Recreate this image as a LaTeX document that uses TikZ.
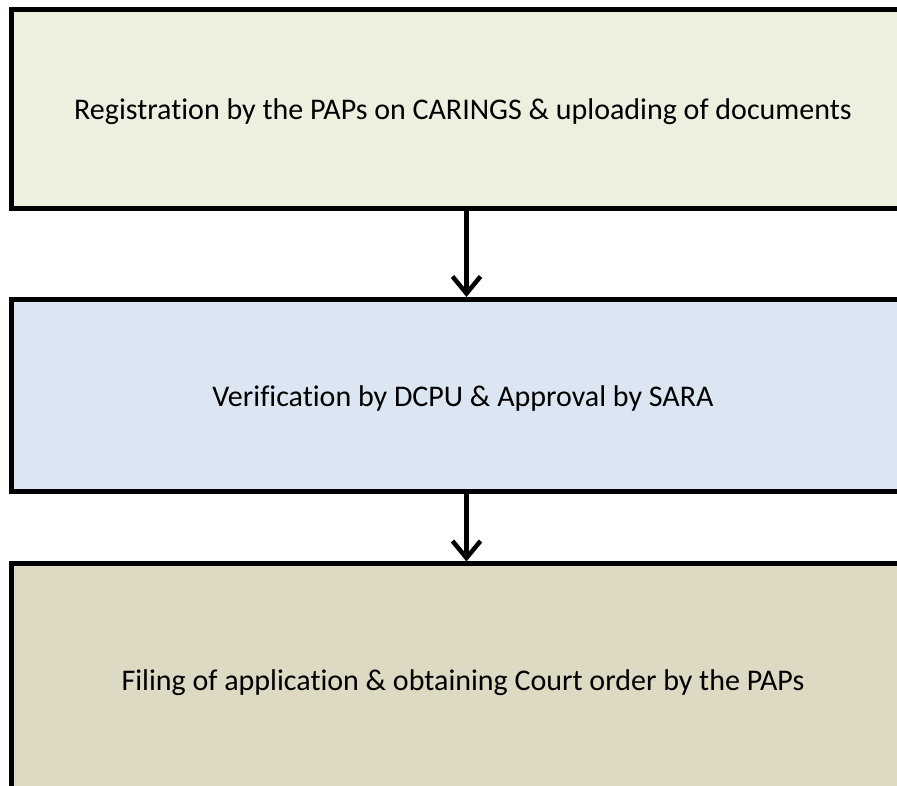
\documentclass[tikz,border=0pt]{standalone}
\usepackage{fontspec}
\setmainfont[Ligatures=NoCommon]{Carlito}
\usetikzlibrary{arrows.meta}
\definecolor{boxA}{HTML}{EBF1DE}
\definecolor{boxB}{HTML}{DCE6F2}
\definecolor{boxC}{HTML}{DDD9C3}
\begin{document}
\begin{tikzpicture}[x=1pt,y=-1pt,
  flowbox/.style={draw=black,line width=5pt},
  flowtext/.style={font=\fontsize{30}{36}\selectfont,inner sep=0pt,anchor=center},
  flowarrow/.style={line width=4.5pt,-{Straight Barb[length=17pt,width=28pt,line width=4.5pt]}}]
\useasboundingbox (0,0) rectangle (897,785);
\clip (0,0) rectangle (897,785);
\fill[white] (0,0) rectangle (897,785);
\draw[flowbox,fill=boxA] (11.5,9.5) rectangle (914.5,208.7);
\draw[flowbox,fill=boxB] (11.5,299) rectangle (914.5,491.5);
\draw[flowbox,fill=boxC] (11.5,563.5) rectangle (914.5,797);
\node[flowtext] (t1) at (463,112) {Registration by the PAPs on CARINGS \& uploading of documents};
\node[flowtext] (t2) at (463,398) {Verification by DCPU \& Approval by SARA};
\node[flowtext] (t3) at (463,683) {Filing of application \& obtaining Court order by the PAPs};
\coordinate (a1s) at (466.5,211);
\coordinate (a1e) at (466.5,297);
\coordinate (a2s) at (466.5,494);
\coordinate (a2e) at (466.5,561.5);
\draw[flowarrow] (a1s) -- (a1e);
\draw[flowarrow] (a2s) -- (a2e);
\end{tikzpicture}
\end{document}
